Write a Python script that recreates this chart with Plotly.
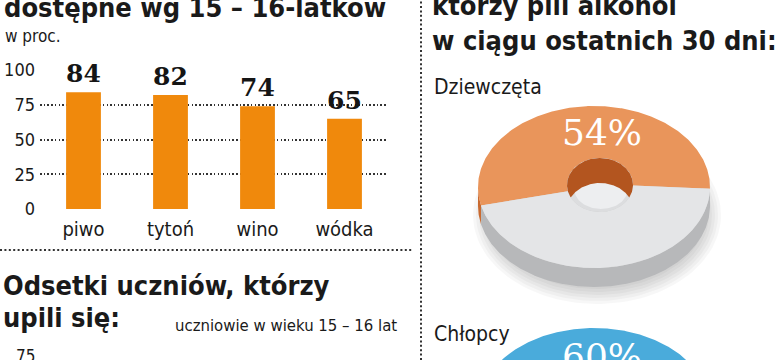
import numpy as np
import plotly.graph_objects as go

# ---------------- data ----------------
categories = ["piwo", "tytoń", "wino", "wódka"]
values = [84, 82, 74, 65]
y_ticks = [0, 25, 50, 75, 100]

donut_labels = ["Dziewczęta", "Chłopcy"]
donut_values = [54, 60]          # % who drank alcohol in last 30 days
donut_main = ["#E9955B", "#4AABDB"]
donut_side = ["#C96A30", "#2F88B8"]
donut_wall = ["#B3551F", "#236E99"]

W, H = 780, 360
COND = "DejaVu Sans Condensed, Roboto, Arial"
SERIF = "DejaVu Serif, Liberation Serif, serif"


def px(x):
    return x / W


def py(y):
    return 1 - y / H


fig = go.Figure()

# ---------------- bar chart ----------------
fig.add_trace(go.Bar(
    x=categories, y=values, marker=dict(color="#F0890C", line=dict(width=0)),
    width=0.4, xaxis="x", yaxis="y", hoverinfo="skip", showlegend=False))

annotations = []
for c, v in zip(categories, values):
    annotations.append(dict(x=c, y=v, xref="x", yref="y", text=str(v), showarrow=False,
                            yanchor="bottom", yshift=2,
                            font=dict(family=SERIF, size=25, color="#151515", weight="bold")))

# ---------------- donuts ----------------
def ell(cx, cy, a, b, th):
    t = np.radians(th)
    return cx + a * np.cos(t), cy - b * np.sin(t)


def runs(mask):
    out, start = [], None
    for i, m in enumerate(mask):
        if m and start is None:
            start = i
        if not m and start is not None:
            out.append((start, i))
            start = None
    if start is not None:
        out.append((start, len(mask)))
    return out


def poly(xs, ys, color):
    fig.add_trace(go.Scatter(x=list(xs) + [xs[0]], y=list(ys) + [ys[0]], mode="lines",
                             fill="toself", fillcolor=color, line=dict(width=0, color=color),
                             xaxis="x2", yaxis="y2", hoverinfo="skip", showlegend=False))


def donut(cx, cy, a, b, hx, hy, ha, hb, t, tin, pct, start, main, side, wall):
    segs = [(start, start + 3.6 * pct, main, side, wall),
            (start + 3.6 * pct, start + 360, "#E4E5E7", "#B7B8BA", "#C4C5C7")]
    # soft shadow
    for k in range(6):
        xs, ys = ell(cx + 3, cy + t + 9, a + 8 - 3 * k, b + 8 - 3 * k, np.linspace(0, 360, 120))
        poly(xs, ys, "rgba(0,0,0,0.03)")
    # side walls (front half)
    for s, e, mc, sc, wc in segs:
        th = np.linspace(s, e, 400)
        m = np.sin(np.radians(th)) <= 0.0
        for i0, i1 in runs(m):
            tt = th[i0:i1]
            if len(tt) < 2:
                continue
            xs, ys = ell(cx, cy, a, b, tt)
            poly(np.r_[xs, xs[::-1]], np.r_[ys, ys[::-1] + t], sc)
    # top faces
    for s, e, mc, sc, wc in segs:
        th = np.linspace(s, e, 300)
        xo, yo = ell(cx, cy, a, b, th)
        xi, yi = ell(hx, hy, ha, hb, th[::-1])
        poly(np.r_[xo, xi], np.r_[yo, yi], mc)
    # hole: floor + back inner wall
    xs, ys = ell(hx, hy, ha, hb, np.linspace(0, 360, 120))
    poly(xs, ys, "#DCDDDF")
    xs, ys = ell(hx + 1, hy + 5, ha * 0.8, hb * 0.7, np.linspace(0, 360, 120))
    poly(xs, ys, "#EDEEF0")
    for s, e, mc, sc, wc in segs:
        th = np.linspace(s, e, 400)
        m = np.sin(np.radians(th)) >= 0.0
        for i0, i1 in runs(m):
            tt = th[i0:i1]
            if len(tt) < 2:
                continue
            xs, ys = ell(hx, hy, ha, hb, tt)
            ylow = hy + hb * np.sqrt(np.clip(1 - ((xs - hx) / ha) ** 2, 0, 1))
            yb = np.minimum(ys + tin, ylow)
            poly(np.r_[xs, xs[::-1]], np.r_[ys, yb[::-1]], wc)


donut_geo = [dict(cx=594, cy=187, label_y=86.7, pct_y=132.4),
             dict(cx=594, cy=409, label_y=334.4, pct_y=356)]
for g, lab, v, mc, sc, wc in zip(donut_geo, donut_labels, donut_values, donut_main, donut_side, donut_wall):
    span = 3.6 * v
    donut(g["cx"], g["cy"], 116, 81, g["cx"] + 6, g["cy"] - 2, 33, 27, 19, 25, v,
          96 - span / 2, mc, sc, wc)
    annotations.append(dict(x=px(g["cx"] + 8), y=py(g["pct_y"]), xref="paper", yref="paper",
                            text=f"{v}%", showarrow=False, xanchor="center", yanchor="middle",
                            font=dict(family=SERIF, size=36, color="white")))
    annotations.append(dict(x=px(432), y=py(g["label_y"]), xref="paper", yref="paper",
                            text=lab, showarrow=False, xanchor="left", yanchor="middle",
                            font=dict(family=COND, size=21, color="#1a1a1a")))

# ---------------- texts ----------------
def txt(x, y, s, size, bold=False, family=COND, color="#1a1a1a"):
    annotations.append(dict(x=px(x), y=py(y), xref="paper", yref="paper", text=s,
                            showarrow=False, xanchor="left", yanchor="middle",
                            font=dict(family=family, size=size, color=color,
                                      weight="bold" if bold else "normal")))


txt(2, 7.5, "dostępne wg 15 – 16-latków", 27, True)
txt(3, 36.5, "w proc.", 17)
txt(1, 285.5, "Odsetki uczniów, którzy", 27, True)
txt(1, 317.5, "upili się:", 27, True)
txt(173, 325, "uczniowie w wieku 15 – 16 lat", 16.6)
txt(14, 356, "75", 17)
txt(430, 5.5, "którzy pili alkohol", 27, True)
txt(430, 40.5, "w ciągu ostatnich 30 dni:", 27, True)

shapes = [
    dict(type="line", xref="paper", yref="paper", x0=0, x1=px(412), y0=py(250), y1=py(250),
         line=dict(color="#333", width=2, dash="2px,2.4px")),
    dict(type="line", xref="paper", yref="paper", x0=px(421), x1=px(421), y0=0, y1=1,
         line=dict(color="#333", width=2, dash="2px,2.4px")),
]

fig.update_layout(
    width=W, height=H, margin=dict(l=0, r=0, t=0, b=0, pad=0, autoexpand=False), autosize=False,
    paper_bgcolor="white", plot_bgcolor="rgba(0,0,0,0)",
    annotations=annotations, shapes=shapes, bargap=0.6,
    xaxis=dict(domain=[px(40), px(388)], type="category", range=[-0.5, 3.5],
               showgrid=False, zeroline=False, showline=False, ticks="", automargin=False,
               ticklabelstandoff=6, tickfont=dict(family=COND, size=20, color="#1a1a1a")),
    yaxis=dict(domain=[py(209), py(70)], range=[0, 100], tickvals=y_ticks, automargin=False,
               showgrid=True, gridcolor="#333", gridwidth=1.5, griddash="1.5px,2.2px",
               zeroline=False, showline=False, ticks="", ticklabelstandoff=4,
               tickfont=dict(family=COND, size=18, color="#1a1a1a")),
    xaxis2=dict(domain=[px(421), 1], range=[421, 780], visible=False, anchor="y2", automargin=False),
    yaxis2=dict(domain=[0, 1], range=[360, 0], visible=False, anchor="x2", automargin=False),
)

fig.write_html("out.html")
